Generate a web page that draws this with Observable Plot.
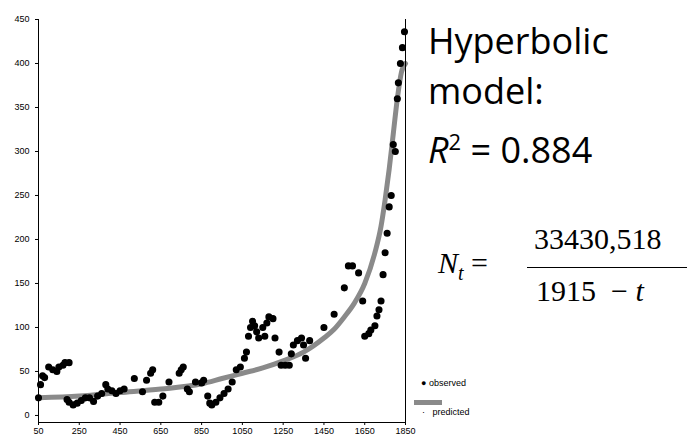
<!DOCTYPE html>
<html><head><meta charset="utf-8">
<script src="https://cdn.jsdelivr.net/npm/d3@7"></script>
<script src="https://cdn.jsdelivr.net/npm/@observablehq/plot@0.6"></script>
<style>
body{margin:0;background:#fff;width:689px;height:445px;position:relative;overflow:hidden}
#chart{position:absolute;left:0;top:0}
.big{position:absolute;font-family:"Open Sans",sans-serif;font-size:36px;color:#000;line-height:50px}
.leg{position:absolute;font-family:Arial,"Liberation Sans",sans-serif;font-size:9px;color:#000}
.eq{position:absolute;font-family:"Liberation Serif",serif;font-size:30px}
</style></head><body>
<div id="chart"></div>
<div class="big" style="left:428px;top:16px">Hyperbolic<br>model:<br><i>R</i><sup style="font-size:22px">2</sup> = 0.884</div>
<div class="eq" style="left:438px;top:246px"><i>N<sub style="font-size:20px">t</sub></i> =</div>
<div class="eq" style="left:534px;top:222px">33430,518</div>
<div style="position:absolute;left:527px;top:267px;width:160px;border-top:1.5px solid #000"></div>
<div class="eq" style="left:536px;top:274px">1915 &nbsp;− <i>t</i></div>
<div class="leg" style="left:421px;top:378px">● observed</div>
<div style="position:absolute;left:414px;top:400px;width:28px;height:5px;background:#8a8a8a"></div>
<div class="leg" style="left:422px;top:407px">·&nbsp;&nbsp; predicted</div>
<script>
const obsYear = [50,60,70,80,100,120,140,150,170,180,200,190,200,220,240,260,280,300,320,340,360,380,390,410,430,450,470,520,560,580,600,610,620,640,660,690,740,750,760,780,790,820,850,860,880,890,900,920,940,960,980,1000,1020,1040,1060,1070,1080,1090,1100,1110,1120,1130,1150,1160,1170,1180,1200,1210,1230,1240,1260,1280,1290,1300,1320,1340,1350,1360,1380,1450,1500,1550,1570,1590,1620,1640,1650,1670,1680,1700,1710,1720,1730,1740,1750,1760,1770,1780,1790,1800,1810,1815,1825,1835,1845]
const obsValue = [20,35,45,43,55,52,50,55,57,60,60,18,15,12,14,17,20,20,16,22,25,35,30,28,25,28,30,42,27,40,48,52,15,15,22,38,48,52,55,30,27,38,37,40,22,14,12,15,20,25,30,38,52,55,65,72,90,100,107,102,95,88,100,90,105,112,110,88,72,57,57,57,70,80,85,88,80,65,85,100,115,145,170,170,162,130,90,93,97,102,113,120,130,160,185,207,237,250,308,300,360,378,400,418,436]
const predYear = [50,250,450,650,850,950,1050,1150,1250,1350,1450,1500,1550,1600,1650,1700,1730,1750,1770,1790,1810,1830,1850]
const predValue = [20,22,26,30,36,42,48,54,62,72,88,98,112,128,150,185,215,245,280,320,360,390,400]

const obs = obsYear.map((t, i) => ({t, v: obsValue[i]}))
const pred = predYear.map((t, i) => ({t, v: predValue[i]}))

const plot = Plot.plot({
  width: 420, height: 445,
  marginLeft: 38, marginRight: 15, marginTop: 19, marginBottom: 23,
  style: {fontFamily: "Arial, 'Liberation Sans', sans-serif", fontSize: "9px", color: "#000"},
  x: {domain: [50, 1850], ticks: d3.range(50, 1851, 200), tickFormat: d => String(d), tickSize: 3, tickPadding: 2, label: null, line: true},
  y: {domain: [-8, 450], ticks: d3.range(0, 451, 50), tickSize: 3, label: null},
  marks: [
    Plot.line(pred, {x: "t", y: "v", stroke: "#8a8a8a", strokeWidth: 5, curve: "monotone-x"}),
    Plot.dot(obs, {x: "t", y: "v", r: 2.8, fill: "#000", stroke: "#000"}),
    Plot.ruleX([50, 1850], {stroke: "#000", y1: -8, y2: 450})
  ]
})
document.querySelector("#chart").append(plot)
</script>
</body></html>
